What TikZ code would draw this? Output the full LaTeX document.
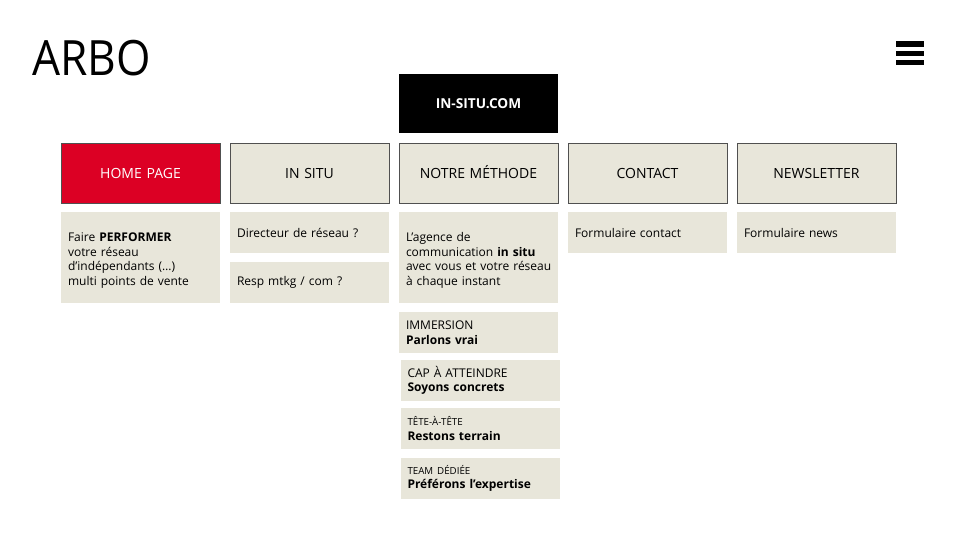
\documentclass[tikz,border=0pt]{standalone}
\usepackage{fontspec}
\setmainfont{Open Sans}
\usepackage{tikz}
\usepackage{xcolor}
\usetikzlibrary{positioning,shapes}
\definecolor{pagered}{HTML}{DC0024}
\definecolor{sand}{HTML}{E8E6DA}
\definecolor{edge}{HTML}{505050}

\begin{document}
\begin{tikzpicture}[x=0.75pt,y=-0.75pt]
\tikzstyle{every node}+=[inner sep=0pt, outer sep=0pt]
\tikzstyle{menubox}=[draw=edge, line width=0.75pt, fill=sand, text width=108.75pt, inner xsep=5.25pt, minimum height=45pt, text height=7.6pt, text depth=0pt, align=center, font=\fontsize{10.5}{12}\selectfont]
\tikzstyle{infobox}=[fill=sand, text width=108.75pt, inner xsep=5.25pt, align=left, font=\fontsize{9}{11}\selectfont]
\useasboundingbox (0,0) rectangle (960,540);
% title and menu icon
\node [anchor=base west, xscale=0.91, font=\fontsize{36.5}{40}\selectfont] (arbo) at (32,75) {ARBO};
\fill [black] (896,41) rectangle (924,46.5);
\fill [black] (896,50.5) rectangle (924,55.5);
\fill [black] (896,59.5) rectangle (924,64.5);
% site root
\node [fill=black, text=white, text width=108.75pt, inner xsep=5.25pt, minimum height=44.25pt, align=center, font=\fontsize{10.25}{12}\selectfont\bfseries] (site) at (478.5,103.5) {IN-SITU.COM};
% main menu
\node [menubox, fill=pagered, text=white] (home) at (140.5,173) {HOME PAGE};
\node [menubox] (insitu) at (309.5,173) {IN SITU};
\node [menubox] (methode) at (478.5,173) {NOTRE MÉTHODE};
\node [menubox] (contact) at (647.5,173) {CONTACT};
\node [menubox] (news) at (816.5,173) {NEWSLETTER};
% page contents
\node [infobox, minimum height=68.25pt] (hometxt) at (140.5,257.5) {\rule{0pt}{11.3pt}Faire \textbf{PERFORMER}\\votre réseau\\d’indépendants (…)\\multi points de vente};
\node [infobox, minimum height=30.75pt] (directeur) at (309.5,232.5) {Directeur de réseau ?};
\node [infobox, minimum height=30.75pt] (resp) at (309.5,282.5) {Resp mtkg / com ?};
\node [infobox, minimum height=68.25pt] (agence) at (478.5,257.5) {\rule{0pt}{11.3pt}L’agence de\\communication \textbf{in situ}\\\mbox{avec vous et votre réseau}\\à chaque instant};
\node [infobox, minimum height=30.75pt] (formcontact) at (647.5,232.5) {Formulaire contact};
\node [infobox, minimum height=30.75pt] (formnews) at (816.5,232.5) {Formulaire news};
% method steps
\node [infobox, minimum height=30.75pt] (immersion) at (478.5,332.5) {IMMERSION\\\textbf{Parlons vrai}};
\node [infobox, minimum height=30.75pt] (cap) at (480,380.5) {CAP À ATTEINDRE\\\textbf{Soyons concrets}};
\node [infobox, minimum height=30.75pt] (tete) at (480,428.5) {{\fontsize{7.3}{10.5}\selectfont TÊTE-À-TÊTE}\\\textbf{Restons terrain}};
\node [infobox, minimum height=30.75pt] (team) at (480,478.5) {{\fontsize{7.3}{10.5}\selectfont TEAM DÉDIÉE}\\\textbf{Préférons l’expertise}};
\end{tikzpicture}
\end{document}
